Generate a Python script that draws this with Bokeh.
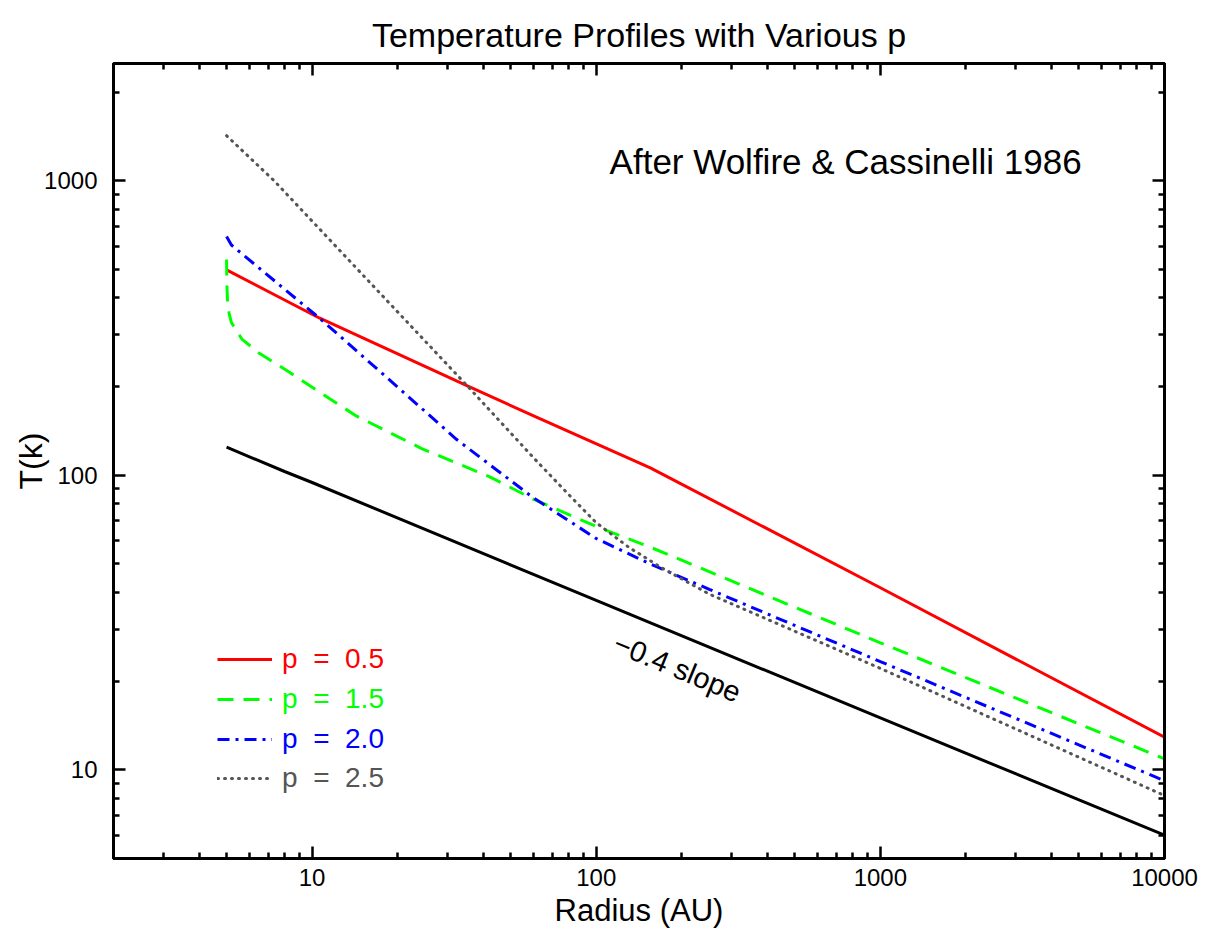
from bokeh.plotting import figure
from bokeh.models import Range1d, LogAxis, FixedTicker, Label, Legend, LegendItem, Title
from bokeh.embed import file_html
from bokeh.resources import INLINE

# ---- data ----
r_p05 = [5, 10.6, 35.2, 63, 155, 1000, 10000]
T_p05 = [498, 342, 201, 156, 106, 41.5, 12.9]

r_p15 = [5.0, 5.01, 5.05, 5.2, 5.66, 6.5, 8.3, 14.3, 24.4, 42, 60, 100, 155, 1000, 10000]
T_p15 = [540, 450, 370, 330, 290, 260, 224, 159, 123, 99, 83, 67, 57, 27, 10.9]

r_p20 = [5, 5.2, 10.6, 18.6, 32.2, 59.7, 100, 155, 250, 1000, 10000]
T_p20 = [646, 605, 342, 212, 132.5, 84.2, 61, 50, 41, 23.3, 9.18]

r_p25 = [5, 7.35, 35.2, 60, 80, 100, 130, 170, 250, 1000, 10000]
T_p25 = [1422, 1000, 201, 115, 86, 69, 57, 48.5, 39.5, 22.1, 8.18]

r_slope = [5, 8, 10, 100, 1000, 10000]
T_slope = [124.5, 103, 94.5, 37.6, 15, 6.0]

x_major = [10, 100, 1000, 10000]
y_major = [10, 100, 1000]
legend_labels = ["p  =  0.5", "p  =  1.5", "p  =  2.0", "p  =  2.5"]

FONT = "Liberation Sans"

p = figure(width=1215, height=932, x_axis_type="log", y_axis_type="log",
           x_range=Range1d(2, 10000), y_range=Range1d(5, 2500),
           output_backend="svg", toolbar_location=None,
           min_border_left=113, min_border_right=51, min_border_top=63, min_border_bottom=74)
p.grid.visible = False
p.outline_line_color = "black"
p.outline_line_width = 3
p.background_fill_color = "white"
p.border_fill_color = "white"

p.title = Title(text="Temperature Profiles with Various p", align="center",
                text_font=FONT, text_font_size="34px", text_font_style="normal",
                text_color="black", standoff=20)

bottom = p.below[0]
left = p.left[0]

x_minor = [m * 10 ** e for e in range(0, 4) for m in range(2, 10)]
y_minor = [m * 10 ** e for e in range(0, 4) for m in range(2, 10)]

top = LogAxis()
right = LogAxis()
p.add_layout(top, "above")
p.add_layout(right, "right")

def style(ax, major, minor, show_labels):
    ax.ticker = FixedTicker(ticks=major, minor_ticks=minor)
    ax.major_tick_in = 12
    ax.major_tick_out = 0
    ax.minor_tick_in = 6
    ax.minor_tick_out = 0
    ax.axis_line_width = 3
    ax.major_tick_line_width = 2.5
    ax.minor_tick_line_width = 2.5
    ax.axis_line_color = "black"
    ax.major_tick_line_color = "black"
    ax.minor_tick_line_color = "black"
    ax.major_label_text_font = FONT
    ax.major_label_text_color = "black"
    if show_labels:
        ax.major_label_overrides = {v: str(v) for v in major}
        ax.major_label_text_font_size = "24px"
    else:
        ax.major_label_overrides = {v: "" for v in major}
        ax.major_label_text_font_size = "1px"
        ax.major_label_standoff = 0

style(bottom, x_major, x_minor, True)
style(top, x_major, x_minor, False)
style(left, y_major, y_minor, True)
style(right, y_major, y_minor, False)
bottom.major_label_standoff = 10
left.major_label_standoff = 16
left.major_label_orientation = "horizontal"

bottom.axis_label = "Radius (AU)"
bottom.axis_label_text_font = FONT
bottom.axis_label_text_font_size = "31px"
bottom.axis_label_text_font_style = "normal"
bottom.axis_label_text_color = "black"
bottom.axis_label_standoff = 4

left.axis_label = "T(k)"
left.axis_label_text_font = FONT
left.axis_label_text_font_size = "32px"
left.axis_label_text_font_style = "normal"
left.axis_label_text_color = "black"
left.axis_label_standoff = -8

r05 = p.line(r_p05, T_p05, line_color="#ff0000", line_width=3)
r15 = p.line(r_p15, T_p15, line_color="#00ff00", line_width=3, line_dash="16 10")
r20 = p.line(r_p20, T_p20, line_color="#0000ff", line_width=3, line_dash="12 6 3 6")
r25 = p.line(r_p25, T_p25, line_color="#555555", line_width=3, line_dash="1 6", line_cap="round")
p.line(r_slope, T_slope, line_color="black", line_width=3)

# legend: one per item so each label keeps its own colour
rows = [(r05, "#ff0000", 183), (r15, "#00ff00", 143), (r20, "#0000ff", 103), (r25, "#555555", 64)]
for (rend, col, vy), lab in zip(rows, legend_labels):
    leg = Legend(items=[LegendItem(label=lab, renderers=[rend])], location=(104, vy),
                 background_fill_alpha=0, border_line_alpha=0,
                 label_text_color=col, label_text_font=FONT, label_text_font_size="28px",
                 glyph_width=55, glyph_height=30, label_height=30,
                 padding=0, margin=0, label_standoff=10, spacing=0)
    p.add_layout(leg)

# texts inside the frame
p.add_layout(Label(x=785, y=1161, text="After Wolfire &  Cassinelli 1986",
                   text_align="center", text_baseline="middle",
                   text_font=FONT, text_font_size="35px", text_color="black"))
p.add_layout(Label(x=193, y=22.2, text="\u22120.4 slope", angle=-0.393,
                   text_align="center", text_baseline="middle",
                   text_font=FONT, text_font_size="29px", text_color="black"))

open("out.html", "w").write(file_html(p, INLINE))
